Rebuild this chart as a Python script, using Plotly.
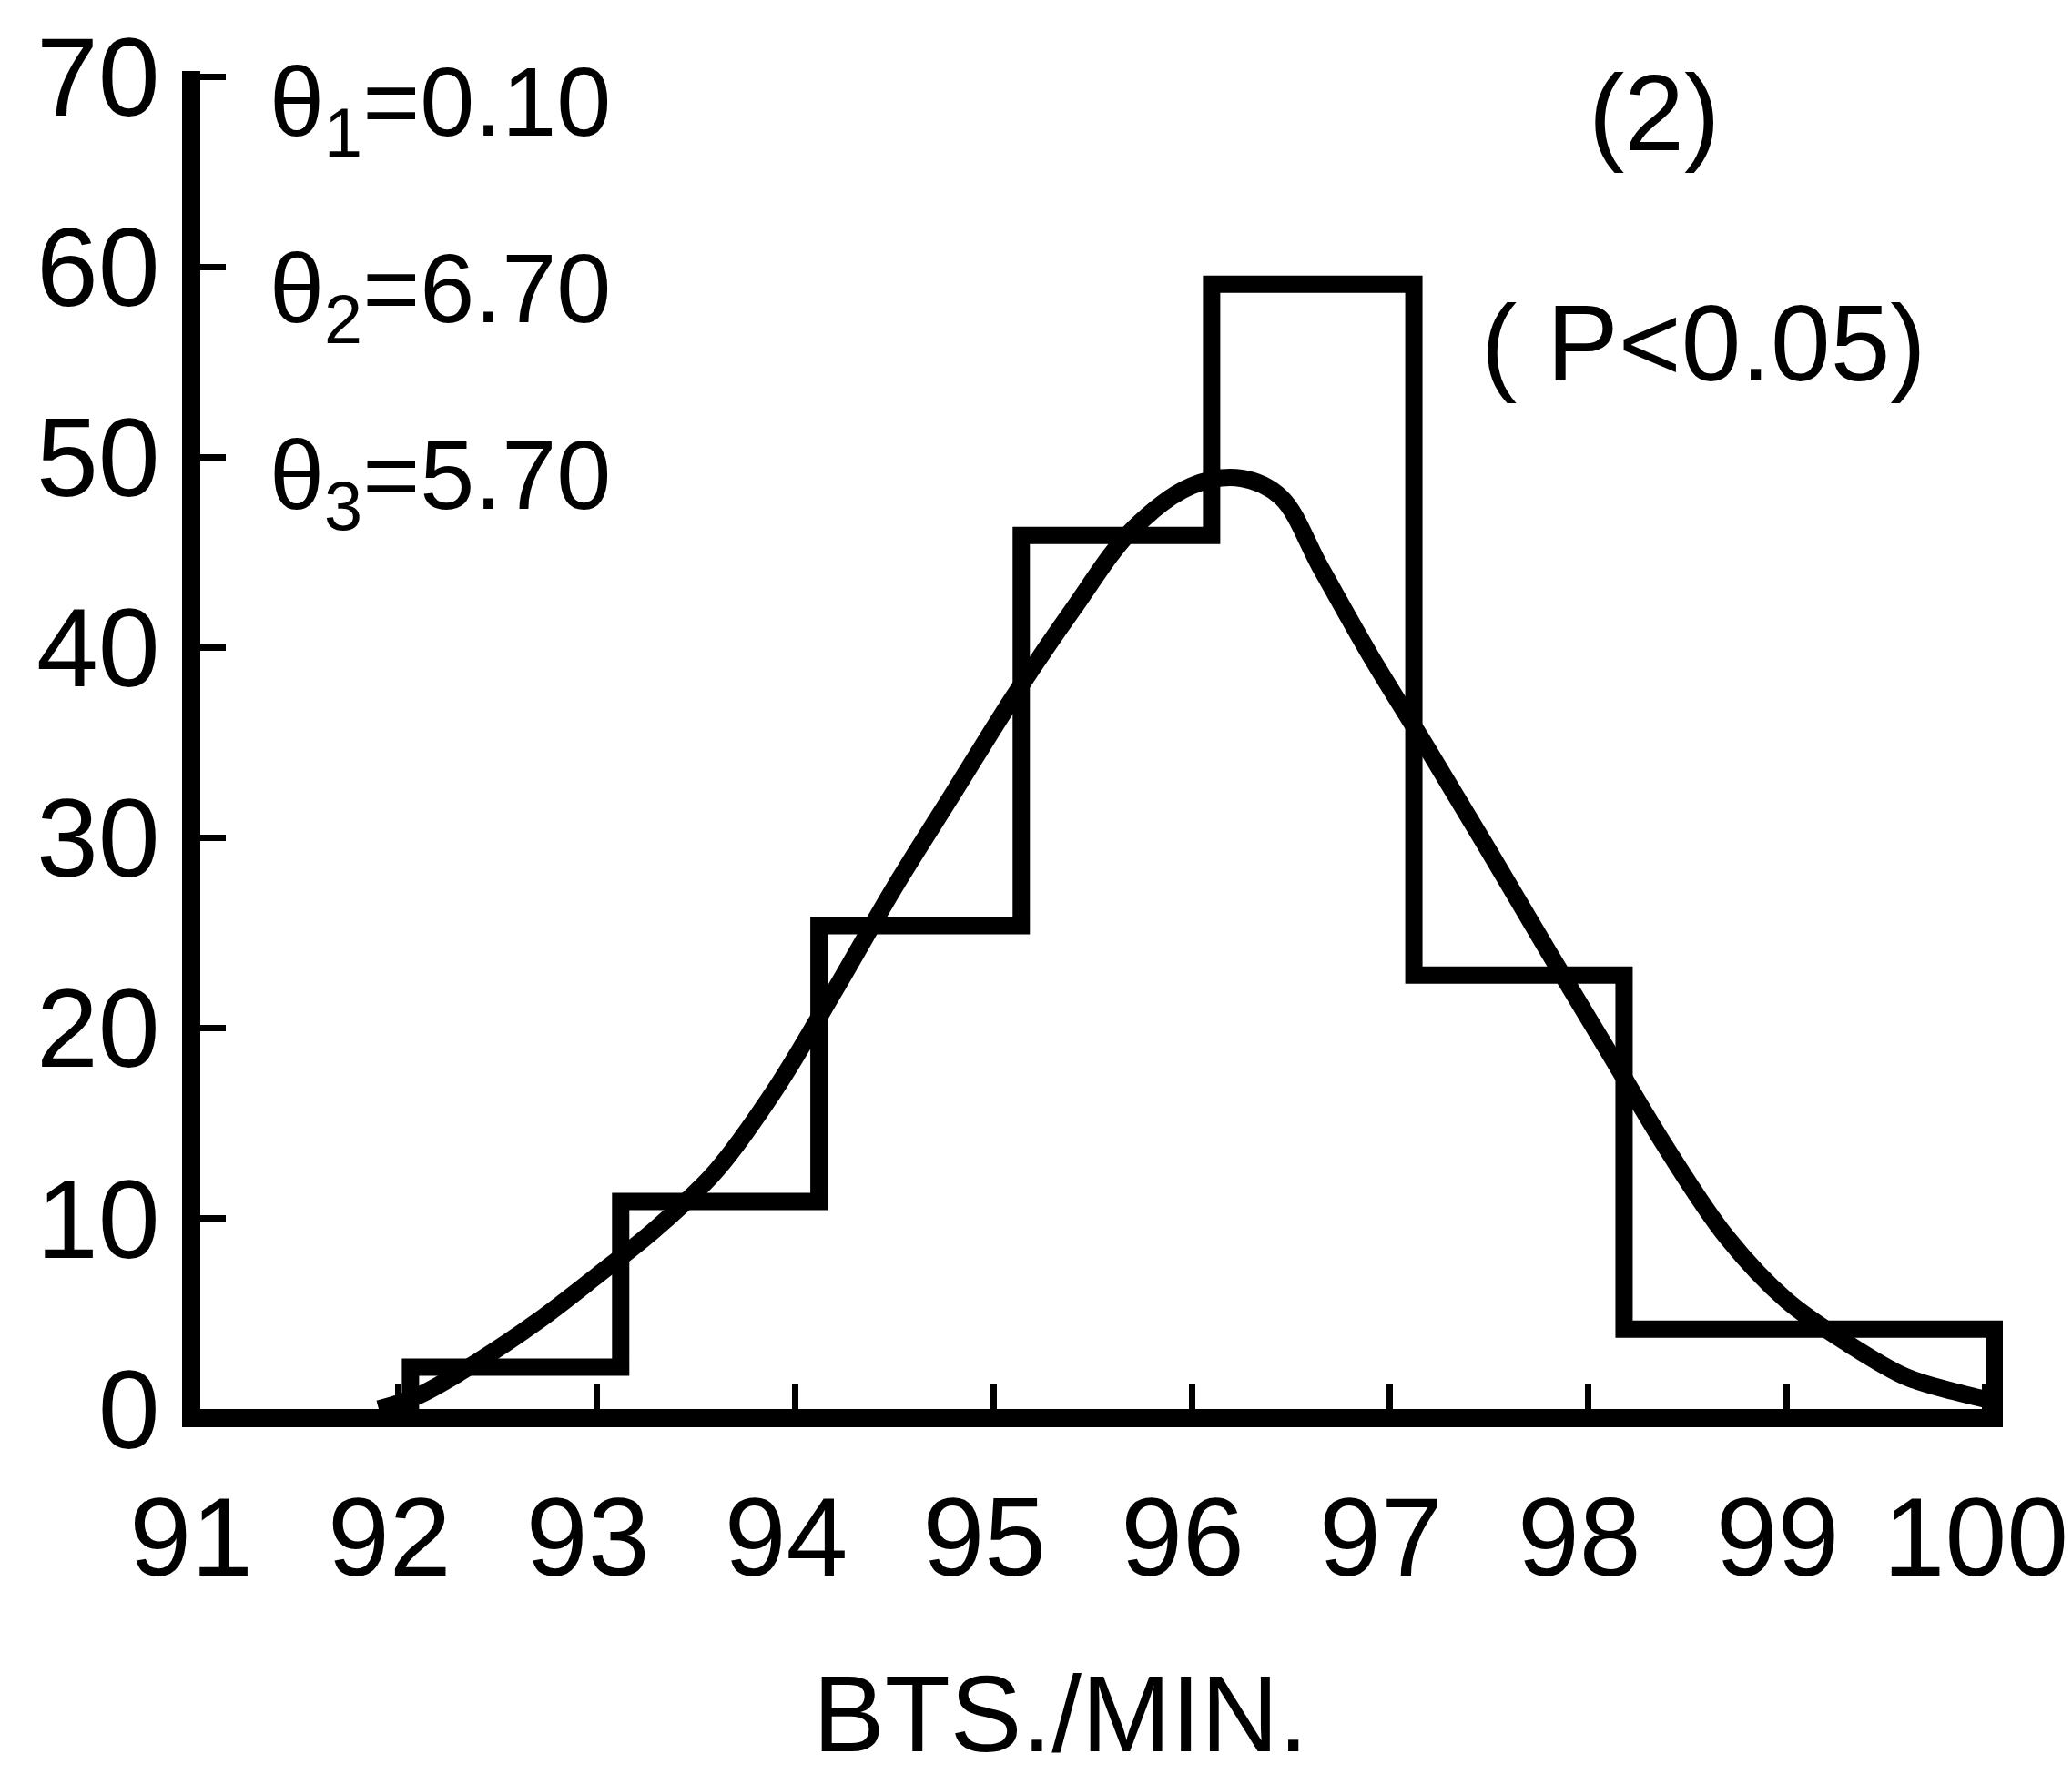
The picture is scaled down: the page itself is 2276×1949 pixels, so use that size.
import plotly.graph_objects as go

# Histogram (bin edges) and counts
bin_edges = [92.06, 93.12, 94.12, 95.14, 96.10, 97.12, 98.18, 100.05]
bin_counts = [2.2, 10.9, 25.4, 45.9, 59.1, 22.8, 4.2]

# Fitted curve
curve_x = [91.9, 92.1, 92.4, 92.7, 93.0, 93.3, 93.6, 93.9, 94.2, 94.5,
           94.8, 95.1, 95.4, 95.7, 96.0, 96.25, 96.45, 96.65, 96.9, 97.2,
           97.5, 97.8, 98.1, 98.4, 98.7, 99.0, 99.3, 99.6, 99.85, 100.05]
curve_y = [0.0, 0.7, 2.5, 4.6, 7.0, 9.5, 12.5, 16.8, 22.0, 27.4,
           32.4, 37.4, 42.0, 46.2, 48.5, 48.9, 47.9, 44.2, 39.6, 34.5,
           29.3, 24.0, 18.8, 13.6, 9.0, 5.7, 3.5, 1.7, 0.9, 0.4]

x_ticks = [91, 92, 93, 94, 95, 96, 97, 98, 99, 100]
y_ticks = [0, 10, 20, 30, 40, 50, 60, 70]

param_lines = ["θ<sub>1</sub>=0.10", "θ<sub>2</sub>=6.70", "θ<sub>3</sub>=5.70"]
param_y = [68.3, 58.5, 48.7]

FONT = "Liberation Sans, Arial, sans-serif"
LW = 19

# build step outline of the histogram
hx, hy = [bin_edges[0]], [0]
for i, c in enumerate(bin_counts):
    hx += [bin_edges[i], bin_edges[i + 1]]
    hy += [c, c]
hx.append(bin_edges[-1])
hy.append(0)

fig = go.Figure()
fig.add_trace(go.Scatter(x=hx, y=hy, mode="lines",
                         line=dict(color="black", width=LW),
                         showlegend=False, hoverinfo="skip"))
fig.add_trace(go.Scatter(x=curve_x, y=curve_y, mode="lines",
                         line=dict(color="black", width=LW, shape="spline", smoothing=1.0),
                         showlegend=False, hoverinfo="skip"))

annotations = []
for t, yv in zip(param_lines, param_y):
    annotations.append(dict(x=91.34, y=yv, xref="x", yref="y", text=t, showarrow=False,
                            xanchor="left", yanchor="middle",
                            font=dict(family=FONT, size=108, color="black")))
annotations.append(dict(x=98.33, y=68.1, xref="x", yref="y", text="(2)", showarrow=False,
                        xanchor="center", yanchor="middle",
                        font=dict(family=FONT, size=118, color="black")))
annotations.append(dict(x=98.58, y=56.0, xref="x", yref="y", text="( P<0.05)", showarrow=False,
                        xanchor="center", yanchor="middle",
                        font=dict(family=FONT, size=118, color="black")))
annotations.append(dict(x=95.34, y=-0.228, xref="x", yref="paper", text="BTS./MIN.", showarrow=False,
                        xanchor="center", yanchor="middle",
                        font=dict(family=FONT, size=118, color="black")))

axis_common = dict(showgrid=False, zeroline=False, showline=True, linecolor="black",
                   linewidth=20, ticks="inside", ticklen=28, tickwidth=7,
                   tickcolor="black", automargin=False, ticklabeloverflow="allow",
                   tickfont=dict(family=FONT, size=122, color="black"))

fig.update_layout(
    template="none",
    width=2276, height=1949, autosize=False,
    margin=dict(l=212, r=84, t=70, b=409, pad=0),
    paper_bgcolor="white", plot_bgcolor="white",
    showlegend=False,
    annotations=annotations,
    xaxis=dict(range=[91, 100.09], tickvals=x_ticks, ticktext=[str(v) for v in x_ticks],
               ticklabelstandoff=17, ticklabelshift=-10, **axis_common),
    yaxis=dict(range=[0, 70.3], tickvals=y_ticks, ticktext=[str(v) for v in y_ticks],
               ticklabelstandoff=0, **axis_common),
)

fig.write_html("out.html")
